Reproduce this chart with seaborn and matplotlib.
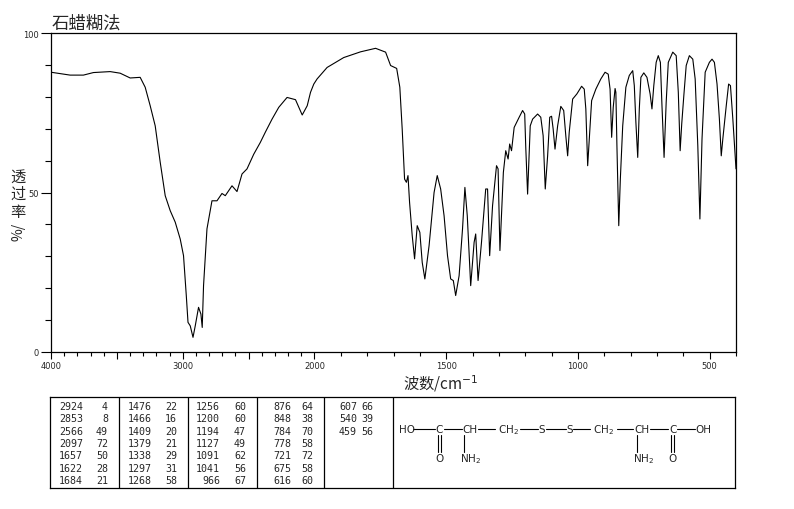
import numpy as np
import matplotlib
matplotlib.use("Agg")
import matplotlib.pyplot as plt
from matplotlib.ticker import FixedLocator, MultipleLocator
import seaborn as sns

# spectrum (wavenumber cm-1, transmittance %)
wavenumber = [4000, 3855, 3754, 3678, 3551, 3475, 3399, 3323, 3285, 3247,
              3209, 3171, 3133, 3095, 3057, 3019, 2994, 2973, 2960, 2943,
              2922, 2905, 2880, 2862, 2852, 2842, 2816, 2778, 2740, 2702,
              2677, 2626, 2588, 2550, 2512, 2461, 2411, 2373, 2322, 2271,
              2208, 2144, 2093, 2055, 2030, 2005, 1990, 1952, 1889, 1825,
              1768, 1730, 1711, 1688, 1676, 1667, 1658, 1651, 1645, 1639,
              1629, 1620, 1610, 1600, 1591, 1581, 1565, 1546, 1534, 1521,
              1508, 1495, 1483, 1473, 1464, 1451, 1438, 1429, 1420, 1407,
              1394, 1388, 1379, 1366, 1350, 1343, 1335, 1324, 1309, 1303,
              1296, 1283, 1274, 1265, 1259, 1252, 1242, 1223, 1210, 1202,
              1198, 1191, 1181, 1172, 1153, 1141, 1132, 1124, 1115, 1107,
              1100, 1094, 1087, 1077, 1065, 1054, 1046, 1039, 1033, 1020,
              1004, 986, 976, 970, 963, 953, 948, 932, 913, 897,
              885, 878, 872, 866, 859, 856, 852, 845, 839, 830,
              818, 805, 792, 786, 780, 773, 767, 761, 750, 738,
              726, 719, 712, 703, 695, 687, 681, 673, 665, 657,
              640, 627, 619, 612, 606, 598, 589, 577, 564, 555,
              545, 537, 529, 517, 501, 491, 482, 472, 463, 456,
              450, 437, 428, 421, 412, 400]
transmittance = [87.7, 86.8, 86.8, 87.6, 87.9, 87.4, 85.9, 86.1, 83.0, 77.2,
                 70.9, 59.5, 49.0, 44.3, 40.7, 35.4, 30.2, 17.7, 9.3, 8.2,
                 4.6, 8.2, 14.0, 11.9, 7.7, 20.8, 38.6, 47.4, 47.4, 49.7,
                 49.0, 52.1, 50.3, 55.8, 57.4, 62.0, 65.7, 68.9, 73.0, 76.7,
                 79.8, 79.1, 74.3, 77.2, 81.4, 84.0, 85.6, 89.2, 92.3, 94.1,
                 95.2, 94.0, 89.8, 88.9, 83.0, 69.9, 54.2, 53.2, 55.3, 46.9,
                 36.5, 29.2, 39.6, 37.5, 28.1, 22.9, 33.3, 50.0, 55.3, 51.1,
                 42.7, 30.2, 22.9, 22.4, 17.7, 23.9, 38.6, 51.6, 42.7, 20.8,
                 34.4, 37.0, 22.4, 34.4, 51.1, 51.1, 30.2, 45.9, 58.4, 57.4,
                 31.8, 56.3, 63.1, 60.5, 65.2, 63.1, 70.4, 73.6, 75.7, 74.6,
                 64.2, 49.5, 70.9, 73.0, 74.6, 73.6, 67.8, 51.1, 61.5, 73.6,
                 73.9, 69.9, 63.6, 70.9, 77.0, 75.7, 67.8, 61.5, 68.9, 79.3,
                 80.9, 83.3, 82.4, 76.2, 58.4, 72.0, 78.8, 82.4, 85.6, 87.7,
                 87.1, 82.4, 67.3, 76.7, 82.6, 81.4, 64.7, 39.6, 54.2, 70.9,
                 83.0, 86.7, 88.2, 83.5, 72.0, 61.0, 76.2, 86.1, 87.5, 86.1,
                 80.9, 76.2, 83.5, 90.8, 92.9, 90.8, 77.2, 61.0, 78.3, 90.8,
                 94.0, 92.9, 81.4, 63.1, 71.5, 80.4, 89.8, 92.9, 91.8, 85.6,
                 64.7, 41.7, 66.8, 87.7, 90.8, 91.8, 90.8, 84.0, 73.0, 61.5,
                 66.8, 77.2, 84.0, 83.5, 73.0, 57.4]

# peak table, one list per column block
peak_wn = [["2924", "2853", "2566", "2097", "1657", "1622", "1684"],
           ["1476", "1466", "1409", "1379", "1338", "1297", "1268"],
           ["1256", "1200", "1194", "1127", "1091", "1041", "966"],
           ["876", "848", "784", "778", "721", "675", "616"],
           ["607", "540", "459"]]
peak_t = [["4", "8", "49", "72", "50", "28", "21"],
          ["22", "16", "20", "21", "29", "31", "58"],
          ["60", "60", "47", "49", "62", "56", "67"],
          ["64", "38", "70", "58", "72", "58", "60"],
          ["66", "39", "56"]]

title = "石蜡糊法"
xlabel = "波数/cm$^{-1}$"

sns.set_style("white")
plt.rcParams['font.family'] = ['Noto Sans CJK SC', 'DejaVu Sans']
plt.rcParams['axes.unicode_minus'] = False

W, H = 794, 510
fig = plt.figure(figsize=(W / 100, H / 100), dpi=100)
fig.patch.set_facecolor("white")


def fpx(x0, y0, x1, y1):
    # pixel box -> figure fraction
    return [x0 / W, 1 - y1 / H, (x1 - x0) / W, (y1 - y0) / H]


ax = fig.add_axes(fpx(51, 34, 736, 353))


# IR spectra: 4000-2000 compressed, 2000-400 at double scale
def fwd(x):
    x = np.asarray(x, dtype=float)
    return np.where(x <= 2000, x / 500.0, 4.0 + (x - 2000) / 1000.0)


def inv(u):
    u = np.asarray(u, dtype=float)
    return np.where(u <= 4, u * 500.0, 2000 + (u - 4) * 1000.0)


ax.set_xscale("function", functions=(fwd, inv))
sns.lineplot(x=wavenumber, y=transmittance, ax=ax, color="black",
             linewidth=0.8, sort=False, estimator=None)
ax.set_xlim(4000, 400)
ax.set_ylim(0, 100)

ax.xaxis.set_major_locator(FixedLocator([4000, 3500, 3000, 2500, 2000, 1500, 1000, 500]))
ax.set_xticklabels(["4000", "", "3000", "", "2000", "1500", "1000", "500"])
ax.xaxis.set_minor_locator(FixedLocator(list(range(400, 4001, 100))))
ax.yaxis.set_major_locator(FixedLocator([0, 50, 100]))
ax.yaxis.set_minor_locator(MultipleLocator(10))
ax.tick_params(axis="both", which="both", bottom=True, left=True,
               top=False, right=False, direction="out", color="black", width=0.8)
ax.tick_params(axis="x", which="major", length=5, labelsize=6, pad=1.5)
ax.tick_params(axis="x", which="minor", length=3)
ax.tick_params(axis="y", which="major", length=7, labelsize=6, pad=2)
ax.tick_params(axis="y", which="minor", length=4)
for lab in ax.get_xticklabels() + ax.get_yticklabels():
    lab.set_family("DejaVu Sans")
for sp in ax.spines.values():
    sp.set_visible(True)
    sp.set_color("black")
    sp.set_linewidth(0.9)
ax.set_xlabel("")
ax.set_ylabel("")

fig.text(52 / W, 1 - 33 / H, title, fontsize=12.5, ha="left", va="bottom")
fig.text(441 / W, 1 - 390 / H, xlabel, fontsize=11, ha="center", va="baseline")
for i, ch in enumerate("透过率"):
    fig.text(18 / W, 1 - (177 + 17.5 * i) / H, ch, fontsize=11,
             ha="center", va="center")
fig.text(18 / W, 1 - 232 / H, "%/", fontsize=10, rotation=90,
         ha="center", va="center")

# peak table + structure
tb = fig.add_axes(fpx(50, 398, 735, 489))
tb.set_xlim(0, 685)
tb.set_ylim(91, 0)
tb.set_xticks([])
tb.set_yticks([])
for sp in tb.spines.values():
    sp.set_visible(True)
    sp.set_color("black")
    sp.set_linewidth(0.9)
for xs in [69.3, 137.7, 206.7, 274.3, 343.3]:
    tb.plot([xs, xs], [0, 91], color="black", lw=0.9)

wn_right = [33, 102, 170, 241, 307]
t_right = [58, 127, 196, 263, 323]
row_y = [9, 21.3, 33.6, 46, 58.3, 70.6, 83]
for c in range(len(peak_wn)):
    for r, (w, t) in enumerate(zip(peak_wn[c], peak_t[c])):
        tb.text(wn_right[c], row_y[r], w, ha="right", va="center",
                family="DejaVu Sans Mono", fontsize=7.2)
        tb.text(t_right[c], row_y[r], t, ha="right", va="center",
                family="DejaVu Sans Mono", fontsize=7.2)

sy, ly = 32.3, 60.6
sfont = dict(family="DejaVu Sans", fontsize=7.5, va="center")
atoms = [(357, "HO"), (389.3, "C"), (420, "CH"), (458, "CH$_2$"), (491.7, "S"),
         (519.3, "S"), (553, "CH$_2$"), (592, "CH"), (622.7, "C"), (653.3, "OH")]
for x, s in atoms:
    tb.text(x, sy, s, ha="center", **sfont)
bonds = [(362.7, 385), (394, 411.7), (428.3, 445), (470, 488.3), (496, 516),
         (523.3, 540), (566.7, 583.3), (600, 618.3), (626.7, 645)]
for a, b in bonds:
    tb.plot([a, b], [sy, sy], color="black", lw=0.8)
for xc in [389.3, 622.7]:
    for dx in (-1.3, 1.3):
        tb.plot([xc + dx, xc + dx], [38.3, 55.3], color="black", lw=0.8)
    tb.text(xc, ly, "O", ha="center", **sfont)
for xc in [414, 586.7]:
    tb.plot([xc, xc], [38.3, 55.3], color="black", lw=0.8)
    tb.text(xc - 3.5, ly, "NH$_2$", ha="left", **sfont)

fig.savefig("out.png", dpi=100, facecolor="white")
